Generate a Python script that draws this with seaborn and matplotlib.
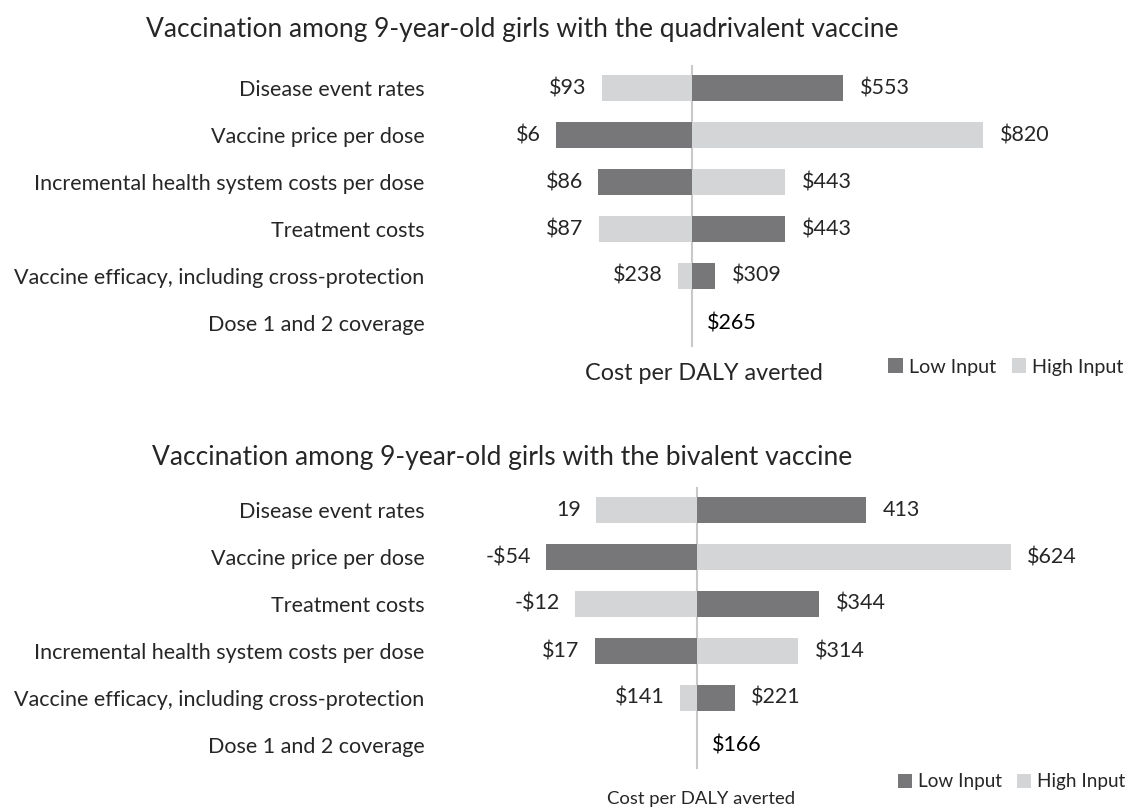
import matplotlib
matplotlib.use("Agg")
import matplotlib.pyplot as plt
import pandas as pd
import seaborn as sns

# --- data ---
quad_params = ["Disease event rates", "Vaccine price per dose",
               "Incremental health system costs per dose", "Treatment costs",
               "Vaccine efficacy, including cross-protection", "Dose 1 and 2 coverage"]
quad_base = 265
quad_low = [553, 6, 86, 443, 309, 265]
quad_high = [93, 820, 443, 87, 238, 265]
quad_low_txt = ["$553", "$6", "$86", "$443", "$309", ""]
quad_high_txt = ["$93", "$820", "$443", "$87", "$238", ""]

biv_params = ["Disease event rates", "Vaccine price per dose", "Treatment costs",
              "Incremental health system costs per dose",
              "Vaccine efficacy, including cross-protection", "Dose 1 and 2 coverage"]
biv_base = 166
biv_low = [413, -54, 344, 17, 221, 166]
biv_high = [19, 624, -12, 314, 141, 166]
biv_low_txt = ["413", "-$54", "$344", "$17", "$221", ""]
biv_high_txt = ["19", "$624", "-$12", "$314", "$141", ""]

DARK = "#76777a"
LIGHT = "#d4d5d7"
TXT = "#262626"
FS = 15.5

sns.set_theme(style="white")
plt.rcParams["font.family"] = ["Lato", "DejaVu Sans"]

W, H = 1142, 810
fig = plt.figure(figsize=(W / 100, H / 100), dpi=100)


def px_axes(left, top, right, bottom):
    return fig.add_axes([left / W, 1 - bottom / H, (right - left) / W, (bottom - top) / H])


def draw_panel(ax, params, base, low, high, low_txt, high_txt, xlim):
    n = len(params)
    df = pd.DataFrame({
        "param": params * 2,
        "input": ["Low Input"] * n + ["High Input"] * n,
        "delta": [v - base for v in low] + [v - base for v in high],
    })
    sns.barplot(data=df, x="delta", y="param", hue="input", order=params,
                hue_order=["Low Input", "High Input"], palette=[DARK, LIGHT],
                dodge=False, width=0.57, orient="h", linewidth=0, ax=ax)
    ax.axvline(0, color="#c9c9c9", lw=1.5, zorder=0.5)
    ax.set_xlim(*xlim)
    ax.set_ylim(len(params) - 0.5, -0.5)
    for i in range(n):
        for v, t in ((low[i], low_txt[i]), (high[i], high_txt[i])):
            if not t:
                continue
            d = v - base
            right = d > 0
            ax.annotate(t, (d, i), xytext=(12 if right else -11, 0),
                        textcoords="offset points", ha="left" if right else "right",
                        va="center", fontsize=FS, color=TXT)
    # baseline label on the unchanged row
    ax.annotate(f"${base}", (0, n - 1), xytext=(11, 0), textcoords="offset points",
                ha="left", va="center", fontsize=FS, color="black")
    ax.set_xlabel("")
    ax.set_ylabel("")
    ax.set_xticks([])
    ax.tick_params(axis="y", length=0, pad=11, labelsize=FS, labelcolor=TXT)
    sns.despine(ax=ax, left=True, bottom=True)
    ax.get_legend().remove()


ax1 = px_axes(440, 64.5, 1060, 346.5)
draw_panel(ax1, quad_params, quad_base, quad_low, quad_high, quad_low_txt, quad_high_txt,
           (-(692 - 440) / 0.524, (1060 - 692) / 0.524))

ax2 = px_axes(440, 486.5, 1060, 768.5)
draw_panel(ax2, biv_params, biv_base, biv_low, biv_high, biv_low_txt, biv_high_txt,
           (-(697 - 440) / 0.685, (1060 - 697) / 0.685))

fig.text(522 / W, 1 - 29 / H, "Vaccination among 9-year-old girls with the quadrivalent vaccine",
         ha="center", va="center", fontsize=19, color=TXT)
fig.text(502 / W, 1 - 458 / H, "Vaccination among 9-year-old girls with the bivalent vaccine",
         ha="center", va="center", fontsize=19, color=TXT)
fig.text(704 / W, 1 - 374 / H, "Cost per DALY averted", ha="center", va="center",
         fontsize=16.8, color=TXT)
fig.text(701 / W, 1 - 799 / H, "Cost per DALY averted", ha="center", va="center",
         fontsize=13.3, color=TXT)

handles, labels = ax1.get_legend_handles_labels()
for (x, y, fs) in ((888, 367, 14.2), (898, 782, 13.6)):
    fig.legend(handles, labels, loc="center left", bbox_to_anchor=(x / W, 1 - y / H),
               ncol=2, frameon=False, fontsize=fs, handlelength=0.75, handleheight=0.75,
               handletextpad=0.3, columnspacing=0.8, borderaxespad=0, borderpad=0,
               labelcolor=TXT)

fig.savefig("out.png", dpi=100)
